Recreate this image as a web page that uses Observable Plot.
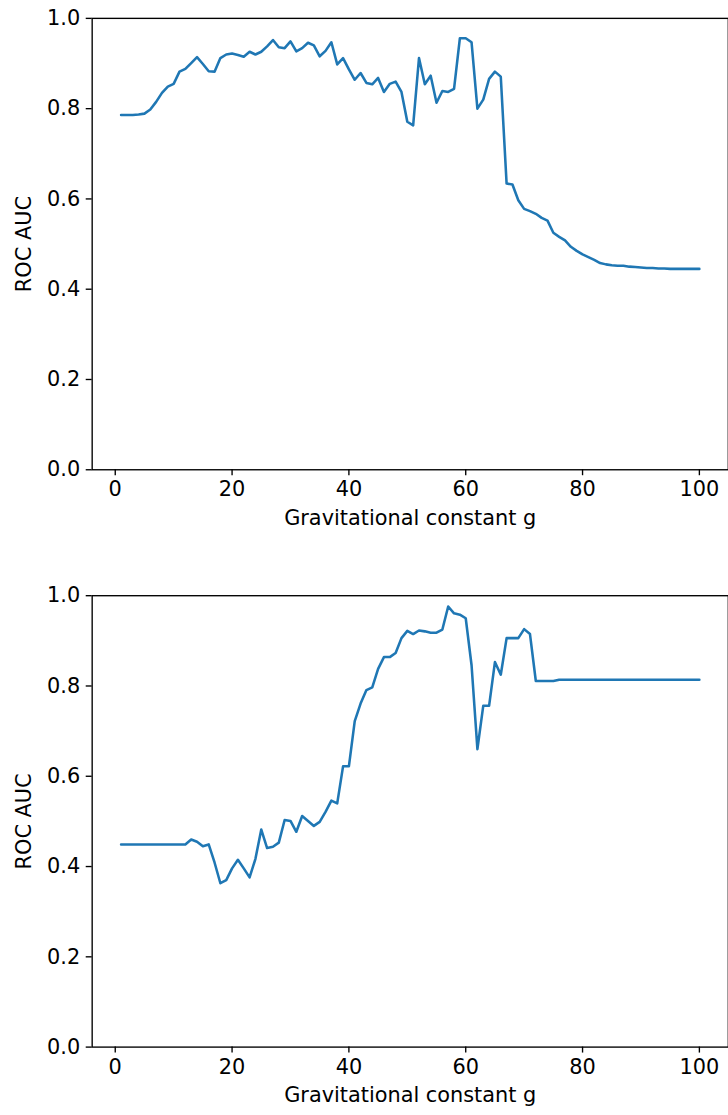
<!DOCTYPE html>
<html>
<head>
<meta charset="utf-8">
<script src="https://cdn.jsdelivr.net/npm/d3@7"></script>
<script src="https://cdn.jsdelivr.net/npm/@observablehq/plot@0.6"></script>
<style>
  html, body { margin: 0; padding: 0; background: white; overflow: hidden; }
  .panel { width: 728px; overflow: hidden; }
  .panel svg { display: block; }
</style>
</head>
<body>
<div id="top" class="panel"></div>
<div id="bottom" class="panel"></div>
<script>
// Gravitational constant g (x values)
const gValues = d3.range(1, 101);

// Top panel ROC AUC values
const aucTop = [
  0.786, 0.786, 0.786, 0.787, 0.789, 0.798, 0.815, 0.835, 0.849, 0.855,
  0.882, 0.888, 0.901, 0.914, 0.899, 0.883, 0.882, 0.912, 0.920, 0.922,
  0.919, 0.915, 0.926, 0.920, 0.926, 0.938, 0.952, 0.936, 0.934, 0.949,
  0.927, 0.934, 0.946, 0.940, 0.916, 0.928, 0.947, 0.898, 0.912, 0.887,
  0.864, 0.879, 0.857, 0.854, 0.868, 0.837, 0.855, 0.860, 0.837, 0.771,
  0.763, 0.912, 0.854, 0.873, 0.813, 0.839, 0.837, 0.844, 0.956, 0.956,
  0.947, 0.800, 0.820, 0.866, 0.882, 0.871, 0.634, 0.632, 0.597, 0.578,
  0.573, 0.567, 0.558, 0.552, 0.525, 0.516, 0.508, 0.494, 0.485, 0.477,
  0.471, 0.465, 0.458, 0.455, 0.453, 0.452, 0.452, 0.450, 0.449, 0.448,
  0.447, 0.447, 0.446, 0.446, 0.445, 0.445, 0.445, 0.445, 0.445, 0.445
];

// Bottom panel ROC AUC values
const aucBottom = [
  0.449, 0.449, 0.449, 0.449, 0.449, 0.449, 0.449, 0.449, 0.449, 0.449,
  0.449, 0.449, 0.460, 0.455, 0.445, 0.449, 0.409, 0.363, 0.370, 0.396,
  0.415, 0.396, 0.376, 0.417, 0.482, 0.441, 0.444, 0.453, 0.503, 0.501,
  0.477, 0.512, 0.501, 0.490, 0.499, 0.521, 0.546, 0.540, 0.622, 0.622,
  0.722, 0.761, 0.791, 0.797, 0.838, 0.864, 0.864, 0.873, 0.906, 0.922,
  0.915, 0.923, 0.921, 0.918, 0.918, 0.925, 0.976, 0.961, 0.958, 0.950,
  0.846, 0.660, 0.756, 0.756, 0.853, 0.825, 0.906, 0.906, 0.906, 0.926,
  0.915, 0.811, 0.811, 0.811, 0.811, 0.814, 0.814, 0.814, 0.814, 0.814,
  0.814, 0.814, 0.814, 0.814, 0.814, 0.814, 0.814, 0.814, 0.814, 0.814,
  0.814, 0.814, 0.814, 0.814, 0.814, 0.814, 0.814, 0.814, 0.814, 0.814
];

const xTicks = [0, 20, 40, 60, 80, 100];
const yTicks = [0, 0.2, 0.4, 0.6, 0.8, 1.0];
const xLabel = "Gravitational constant g";
const yLabel = "ROC AUC";

const FONT = 21;
const LW = 1.37;

function panel(values, height, marginTop, marginBottom) {
  const data = gValues.map((g, i) => ({g, auc: values[i]}));
  return Plot.plot({
    width: 733,
    height,
    marginLeft: 92.3,
    marginRight: 0.2,
    marginTop,
    marginBottom,
    style: {fontFamily: "DejaVu Sans", fontSize: FONT + "px", color: "black", background: "white", overflow: "hidden"},
    x: {domain: [-3.95, 104.95]},
    y: {domain: [0, 1]},
    marks: [
      Plot.frame({stroke: "black", strokeWidth: LW}),
      Plot.axisX({
        ticks: xTicks, tickSize: 6, tickPadding: 6, strokeWidth: LW,
        tickFormat: d3.format("d"),
        label: xLabel, labelAnchor: "center", labelArrow: "none", labelOffset: 55.5,
        fontSize: FONT
      }),
      Plot.axisY({
        ticks: yTicks, tickSize: 6, tickPadding: 6, strokeWidth: LW,
        tickFormat: d3.format(".1f"),
        label: yLabel, labelAnchor: "center", labelArrow: "none", labelOffset: 77,
        fontSize: FONT
      }),
      Plot.line(data, {x: "g", y: "auc", stroke: "#1f77b4", strokeWidth: 2.57})
    ]
  });
}

document.getElementById("top").appendChild(panel(aucTop, 557, 18, 84.5));
document.getElementById("bottom").appendChild(panel(aucBottom, 558, 42.5, 61));
</script>
</body>
</html>
